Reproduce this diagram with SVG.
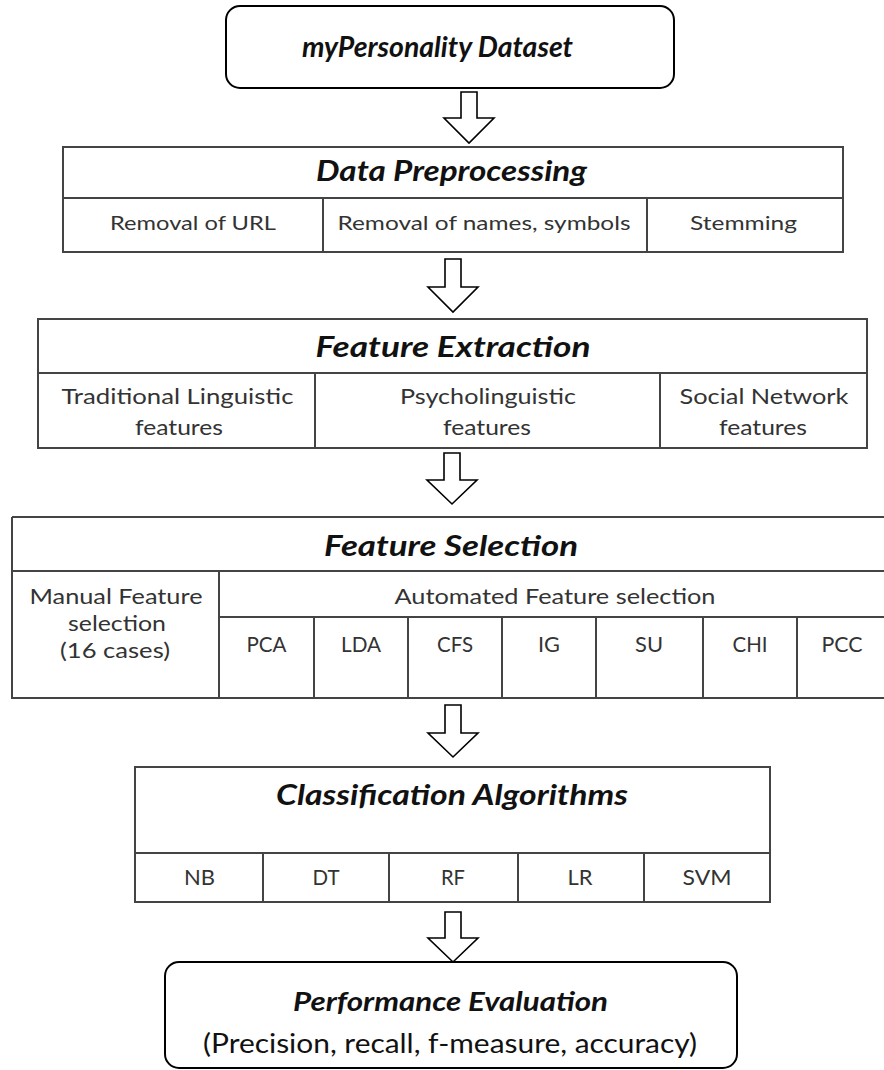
<svg xmlns="http://www.w3.org/2000/svg" width="884" height="1070" viewBox="0 0 884 1070">
<style>
.rbox{fill:#fff;stroke:#000;stroke-width:2}
.tbox{fill:#fff;stroke:#444;stroke-width:2}
.ln{stroke:#444;stroke-width:2;fill:none}
.ttl{font-family:Lato,"Open Sans","Liberation Sans",sans-serif;font-weight:bold;font-style:italic;fill:#111;text-anchor:middle}
.sub{font-family:Lato,"Open Sans","Liberation Sans",sans-serif;fill:#333;text-anchor:middle}
.arr{fill:#fff;stroke:#000;stroke-width:1.6;stroke-linejoin:miter}
</style>
<rect width="884" height="1070" fill="#fff"/>

<g id="dataset">
<rect class="rbox" x="226" y="6" width="448" height="82" rx="14"/>
<text class="ttl" x="437.5" y="57" font-size="29" textLength="271" lengthAdjust="spacingAndGlyphs">myPersonality Dataset</text>
</g>

<g id="preprocessing">
<rect class="tbox" x="63" y="147" width="780" height="105"/>
<path class="ln" d="M63 198H843M323 198V252M647 198V252"/>
<text class="ttl" x="451.5" y="181" font-size="28" textLength="271" lengthAdjust="spacingAndGlyphs">Data Preprocessing</text>
<text class="sub" x="193" y="230" font-size="19" textLength="166" lengthAdjust="spacingAndGlyphs">Removal of URL</text>
<text class="sub" x="484" y="230" font-size="19" textLength="293" lengthAdjust="spacingAndGlyphs">Removal of names, symbols</text>
<text class="sub" x="743.5" y="230" font-size="19" textLength="107" lengthAdjust="spacingAndGlyphs">Stemming</text>
</g>

<g id="extraction">
<rect class="tbox" x="38" y="319" width="829" height="129"/>
<path class="ln" d="M38 373H867M315 373V448M660 373V448"/>
<text class="ttl" x="453" y="357" font-size="28" textLength="275" lengthAdjust="spacingAndGlyphs">Feature Extraction</text>
<text class="sub" x="177.5" y="404" font-size="22" textLength="232" lengthAdjust="spacingAndGlyphs">Traditional Linguistic</text>
<text class="sub" x="179" y="435" font-size="22" textLength="88" lengthAdjust="spacingAndGlyphs">features</text>
<text class="sub" x="488" y="404" font-size="22" textLength="176" lengthAdjust="spacingAndGlyphs">Psycholinguistic</text>
<text class="sub" x="487" y="435" font-size="22" textLength="88" lengthAdjust="spacingAndGlyphs">features</text>
<text class="sub" x="764" y="404" font-size="22" textLength="169" lengthAdjust="spacingAndGlyphs">Social Network</text>
<text class="sub" x="763" y="435" font-size="22" textLength="88" lengthAdjust="spacingAndGlyphs">features</text>
</g>

<g id="selection">
<path class="ln" d="M12 517H884M12 517V698H884M12 571H884M219 617H884M219 571V698M314 617V698M408 617V698M502 617V698M596 617V698M703 617V698M797 617V698"/>
<text class="ttl" x="451" y="556" font-size="28" textLength="254" lengthAdjust="spacingAndGlyphs">Feature Selection</text>
<text class="sub" x="116" y="604" font-size="21" textLength="173" lengthAdjust="spacingAndGlyphs">Manual Feature</text>
<text class="sub" x="117" y="631" font-size="21" textLength="98" lengthAdjust="spacingAndGlyphs">selection</text>
<text class="sub" x="115" y="658" font-size="21" textLength="110" lengthAdjust="spacingAndGlyphs">(16 cases)</text>
<text class="sub" x="555" y="604" font-size="21" textLength="321" lengthAdjust="spacingAndGlyphs">Automated Feature selection</text>
<text class="sub" x="266.5" y="652" font-size="21" textLength="40" lengthAdjust="spacingAndGlyphs">PCA</text>
<text class="sub" x="361" y="652" font-size="21" textLength="40" lengthAdjust="spacingAndGlyphs">LDA</text>
<text class="sub" x="455" y="652" font-size="21" textLength="36" lengthAdjust="spacingAndGlyphs">CFS</text>
<text class="sub" x="549" y="652" font-size="21" textLength="22" lengthAdjust="spacingAndGlyphs">IG</text>
<text class="sub" x="649" y="652" font-size="21" textLength="28" lengthAdjust="spacingAndGlyphs">SU</text>
<text class="sub" x="750" y="652" font-size="21" textLength="35" lengthAdjust="spacingAndGlyphs">CHI</text>
<text class="sub" x="842" y="652" font-size="21" textLength="41" lengthAdjust="spacingAndGlyphs">PCC</text>
</g>

<g id="classification">
<rect class="tbox" x="135" y="767" width="635" height="135"/>
<path class="ln" d="M135 853H770M263 853V902M389 853V902M518 853V902M644 853V902"/>
<text class="ttl" x="452" y="805" font-size="28" textLength="352" lengthAdjust="spacingAndGlyphs">Classification Algorithms</text>
<text class="sub" x="199.5" y="885" font-size="21" textLength="31" lengthAdjust="spacingAndGlyphs">NB</text>
<text class="sub" x="326" y="885" font-size="21" textLength="27" lengthAdjust="spacingAndGlyphs">DT</text>
<text class="sub" x="453" y="885" font-size="21" textLength="24" lengthAdjust="spacingAndGlyphs">RF</text>
<text class="sub" x="580" y="885" font-size="21" textLength="25" lengthAdjust="spacingAndGlyphs">LR</text>
<text class="sub" x="707" y="885" font-size="21" textLength="49" lengthAdjust="spacingAndGlyphs">SVM</text>
</g>

<g id="evaluation">
<rect class="rbox" x="165" y="962" width="572" height="106" rx="14"/>
<text class="ttl" x="450.5" y="1011" font-size="27" textLength="315" lengthAdjust="spacingAndGlyphs">Performance Evaluation</text>
<text class="sub" x="450" y="1053" font-size="27" style="fill:#111" textLength="494" lengthAdjust="spacingAndGlyphs">(Precision, recall, f-measure, accuracy)</text>
</g>

<g id="connectors">
<polygon class="arr" points="461,92 477,92 477,118 494,118 469,143 444,118 461,118"/>
<polygon class="arr" points="445,259 461,259 461,287 478,287 453,312 428,287 445,287"/>
<polygon class="arr" points="444,453 460,453 460,480 477,480 452,504 427,480 444,480"/>
<polygon class="arr" points="445,705 461,705 461,733 478,733 453,757 428,733 445,733"/>
<polygon class="arr" points="445,912 461,912 461,938 478,938 453,962 428,938 445,938"/>
</g>
</svg>
